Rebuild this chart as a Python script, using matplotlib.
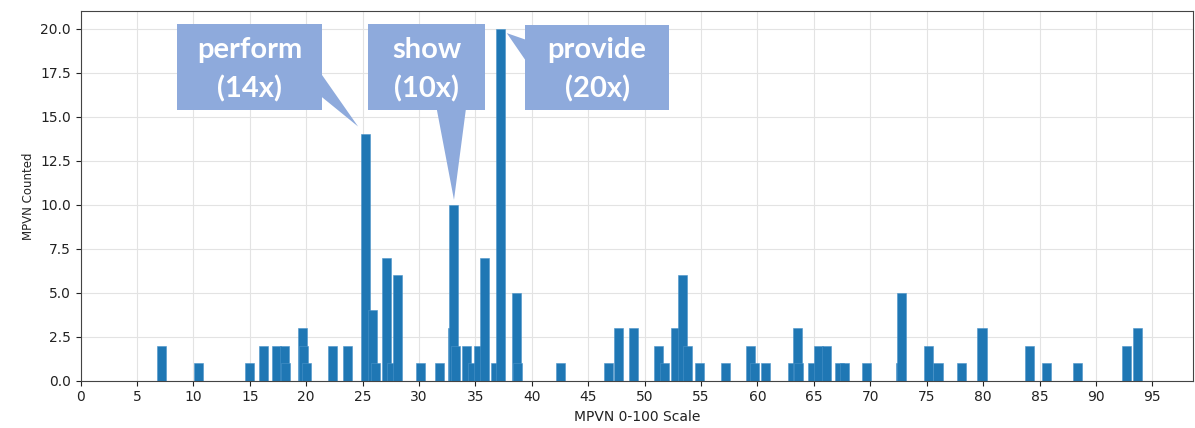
import numpy as np
import matplotlib.pyplot as plt
from matplotlib.patches import Polygon

# MPVN score of each verb and how often it was counted
mpvn_score = [7.15, 10.45, 14.95, 16.2, 17.35, 18.05, 18.2, 19.7, 19.8, 20.0,
              22.35, 23.7, 25.3, 25.9, 26.15, 27.15, 27.6, 28.1, 30.1, 31.85,
              32.95, 33.1, 33.25, 34.25, 34.75, 35.25, 35.8, 36.75, 37.25, 38.6,
              38.75, 42.5, 46.8, 47.65, 49.0, 51.2, 51.8, 52.7, 53.35, 53.8,
              54.9, 57.2, 59.4, 59.7, 60.7, 63.1, 63.55, 63.65, 64.9, 65.45,
              66.1, 67.25, 67.75, 69.65, 72.7, 72.8, 75.15, 76.0, 78.1, 79.9,
              84.1, 85.6, 88.4, 92.75, 93.7]
counts = [2, 1, 1, 2, 2, 2, 1, 3, 2, 1,
          2, 2, 14, 4, 1, 7, 1, 6, 1, 1,
          3, 10, 2, 2, 1, 2, 7, 1, 20, 5,
          1, 1, 1, 3, 3, 2, 1, 3, 6, 2,
          1, 1, 2, 1, 1, 1, 3, 1, 1, 2,
          2, 1, 1, 1, 1, 5, 2, 1, 1, 3,
          2, 1, 1, 2, 3]

# highlighted verbs
callout_words = ['perform', 'show', 'provide']
callout_x = [25.3, 33.1, 37.25]
callout_counts = [14, 10, 20]

fig = plt.figure(figsize=(11.95, 4.28), dpi=100)
ax = fig.add_axes([0.0674, 0.1105, 0.9309, 0.8631])

ax.bar(mpvn_score, counts, width=0.8, color='#1f77b4', edgecolor='#4a93c9',
       linewidth=0.4, zorder=2)

ax.set_xlim(0, 98.6)
ax.set_ylim(0, 21)
ax.set_xticks(np.arange(0, 100, 5))
ax.set_yticks(np.arange(0, 20.1, 2.5))
ax.grid(True, color='#e3e3e3', linewidth=0.8)
ax.set_axisbelow(True)
ax.tick_params(labelsize=10, colors='#222222')
for s in ax.spines.values():
    s.set_color('#444444')
ax.set_xlabel('MPVN 0-100 Scale', fontsize=10, color='#222222')
ax.set_ylabel('MPVN Counted', fontsize=8.5, color='#222222')

# callout boxes (box corners, tail base) - tip comes from the bar itself
box_col = '#8eaadc'
boxes = [
    dict(x0=8.58, x1=21.38, y0=15.41, y1=20.28,
         base=[(21.38, 17.4), (21.38, 16.13)], dx=-0.7, dy=0.45),
    dict(x0=25.51, x1=35.86, y0=15.41, y1=20.28,
         base=[(31.58, 15.41), (34.15, 15.41)], dx=0.0, dy=0.28),
    dict(x0=39.4, x1=52.17, y0=15.41, y1=20.24,
         base=[(39.4, 19.4), (39.4, 18.25)], dx=0.53, dy=-0.24),
]
for word, bx, cnt, b in zip(callout_words, callout_x, callout_counts, boxes):
    rect = [(b['x0'], b['y0']), (b['x1'], b['y0']), (b['x1'], b['y1']), (b['x0'], b['y1'])]
    ax.add_patch(Polygon(rect, closed=True, facecolor=box_col, edgecolor='none', zorder=5))
    tip = (bx + b['dx'], cnt + b['dy'])
    ax.add_patch(Polygon([b['base'][0], tip, b['base'][1]], closed=True,
                         facecolor=box_col, edgecolor='none', zorder=5))
    ax.text((b['x0'] + b['x1']) / 2, (b['y0'] + b['y1']) / 2 - 0.15,
            f'{word}\n({cnt}x)', ha='center', va='center', color='white',
            fontsize=21, fontweight='bold', family='Lato',
            linespacing=1.55, zorder=6)

fig.savefig('out.png', dpi=100)
